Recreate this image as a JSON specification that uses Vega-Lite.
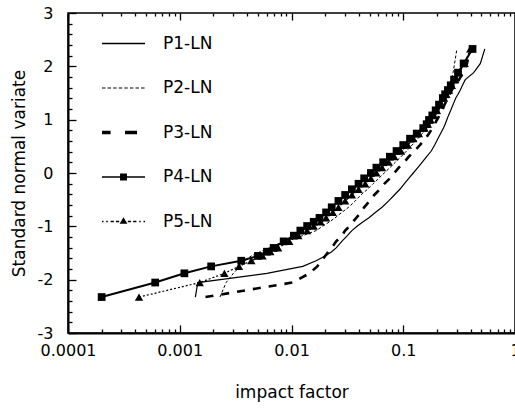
{
  "$schema": "https://vega.github.io/schema/vega-lite/v6.json",
  "width": 447,
  "height": 320,
  "autosize": "none",
  "padding": {"left": 68, "top": 13, "right": 0, "bottom": 76},
  "background": "white",
  "config": {
    "view": {"stroke": "black", "strokeWidth": 1.5},
    "font": "DejaVu Sans",
    "axis": {
      "labelFont": "DejaVu Sans", "titleFont": "DejaVu Sans",
      "labelFontSize": 16, "titleFontSize": 17,
      "labelColor": "black", "titleColor": "black", "titleFontWeight": "normal",
      "domainColor": "black", "domainWidth": 2,
      "tickColor": "black", "tickWidth": 1.3,
      "grid": false, "labelFlush": false, "labelOverlap": false
    }
  },
  "data": {"values": [
    {"s":"P1-LN","x":0.00138,"z":-2.326},{"s":"P1-LN","x":0.00145,"z":-2.054},{"s":"P1-LN","x":0.00603,"z":-1.881},{"s":"P1-LN","x":0.0126,"z":-1.751},{"s":"P1-LN","x":0.0166,"z":-1.645},{"s":"P1-LN","x":0.0200,"z":-1.555},{"s":"P1-LN","x":0.0229,"z":-1.476},{"s":"P1-LN","x":0.0251,"z":-1.405},{"s":"P1-LN","x":0.0282,"z":-1.282},{"s":"P1-LN","x":0.0316,"z":-1.175},{"s":"P1-LN","x":0.0347,"z":-1.08},{"s":"P1-LN","x":0.0389,"z":-0.994},{"s":"P1-LN","x":0.0437,"z":-0.915},{"s":"P1-LN","x":0.0490,"z":-0.842},{"s":"P1-LN","x":0.0562,"z":-0.739},{"s":"P1-LN","x":0.0646,"z":-0.643},{"s":"P1-LN","x":0.0741,"z":-0.524},{"s":"P1-LN","x":0.0832,"z":-0.412},{"s":"P1-LN","x":0.0933,"z":-0.305},{"s":"P1-LN","x":0.102,"z":-0.202},{"s":"P1-LN","x":0.112,"z":-0.1},{"s":"P1-LN","x":0.123,"z":0},{"s":"P1-LN","x":0.135,"z":0.1},{"s":"P1-LN","x":0.148,"z":0.202},{"s":"P1-LN","x":0.162,"z":0.305},{"s":"P1-LN","x":0.178,"z":0.412},{"s":"P1-LN","x":0.191,"z":0.524},{"s":"P1-LN","x":0.204,"z":0.643},{"s":"P1-LN","x":0.216,"z":0.739},{"s":"P1-LN","x":0.229,"z":0.842},{"s":"P1-LN","x":0.237,"z":0.915},{"s":"P1-LN","x":0.245,"z":0.994},{"s":"P1-LN","x":0.254,"z":1.08},{"s":"P1-LN","x":0.266,"z":1.175},{"s":"P1-LN","x":0.279,"z":1.282},{"s":"P1-LN","x":0.295,"z":1.405},{"s":"P1-LN","x":0.309,"z":1.476},{"s":"P1-LN","x":0.324,"z":1.555},{"s":"P1-LN","x":0.339,"z":1.645},{"s":"P1-LN","x":0.359,"z":1.751},{"s":"P1-LN","x":0.427,"z":1.881},{"s":"P1-LN","x":0.490,"z":2.054},{"s":"P1-LN","x":0.537,"z":2.326},
    {"s":"P2-LN","x":0.00229,"z":-2.326},{"s":"P2-LN","x":0.00260,"z":-2.054},{"s":"P2-LN","x":0.00302,"z":-1.881},{"s":"P2-LN","x":0.00347,"z":-1.751},{"s":"P2-LN","x":0.00380,"z":-1.645},{"s":"P2-LN","x":0.00437,"z":-1.555},{"s":"P2-LN","x":0.00525,"z":-1.476},{"s":"P2-LN","x":0.00631,"z":-1.405},{"s":"P2-LN","x":0.00851,"z":-1.282},{"s":"P2-LN","x":0.0126,"z":-1.175},{"s":"P2-LN","x":0.0166,"z":-1.08},{"s":"P2-LN","x":0.0191,"z":-0.994},{"s":"P2-LN","x":0.0219,"z":-0.915},{"s":"P2-LN","x":0.0245,"z":-0.842},{"s":"P2-LN","x":0.0282,"z":-0.739},{"s":"P2-LN","x":0.0324,"z":-0.643},{"s":"P2-LN","x":0.0372,"z":-0.524},{"s":"P2-LN","x":0.0417,"z":-0.412},{"s":"P2-LN","x":0.0479,"z":-0.305},{"s":"P2-LN","x":0.0537,"z":-0.202},{"s":"P2-LN","x":0.0603,"z":-0.1},{"s":"P2-LN","x":0.0676,"z":0},{"s":"P2-LN","x":0.0759,"z":0.1},{"s":"P2-LN","x":0.0851,"z":0.202},{"s":"P2-LN","x":0.0955,"z":0.305},{"s":"P2-LN","x":0.107,"z":0.412},{"s":"P2-LN","x":0.120,"z":0.524},{"s":"P2-LN","x":0.135,"z":0.643},{"s":"P2-LN","x":0.148,"z":0.739},{"s":"P2-LN","x":0.162,"z":0.842},{"s":"P2-LN","x":0.174,"z":0.915},{"s":"P2-LN","x":0.184,"z":0.994},{"s":"P2-LN","x":0.195,"z":1.08},{"s":"P2-LN","x":0.207,"z":1.175},{"s":"P2-LN","x":0.219,"z":1.282},{"s":"P2-LN","x":0.234,"z":1.405},{"s":"P2-LN","x":0.243,"z":1.476},{"s":"P2-LN","x":0.251,"z":1.555},{"s":"P2-LN","x":0.260,"z":1.645},{"s":"P2-LN","x":0.269,"z":1.751},{"s":"P2-LN","x":0.279,"z":1.881},{"s":"P2-LN","x":0.288,"z":2.054},{"s":"P2-LN","x":0.302,"z":2.326},
    {"s":"P3-LN","x":0.00170,"z":-2.326},{"s":"P3-LN","x":0.0102,"z":-2.054},{"s":"P3-LN","x":0.0145,"z":-1.881},{"s":"P3-LN","x":0.0170,"z":-1.751},{"s":"P3-LN","x":0.0186,"z":-1.645},{"s":"P3-LN","x":0.0200,"z":-1.555},{"s":"P3-LN","x":0.0214,"z":-1.476},{"s":"P3-LN","x":0.0229,"z":-1.405},{"s":"P3-LN","x":0.0251,"z":-1.282},{"s":"P3-LN","x":0.0282,"z":-1.175},{"s":"P3-LN","x":0.0302,"z":-1.08},{"s":"P3-LN","x":0.0331,"z":-0.994},{"s":"P3-LN","x":0.0355,"z":-0.915},{"s":"P3-LN","x":0.0380,"z":-0.842},{"s":"P3-LN","x":0.0417,"z":-0.739},{"s":"P3-LN","x":0.0447,"z":-0.643},{"s":"P3-LN","x":0.0501,"z":-0.524},{"s":"P3-LN","x":0.0550,"z":-0.412},{"s":"P3-LN","x":0.0617,"z":-0.305},{"s":"P3-LN","x":0.0676,"z":-0.202},{"s":"P3-LN","x":0.0759,"z":-0.1},{"s":"P3-LN","x":0.0832,"z":0},{"s":"P3-LN","x":0.0912,"z":0.1},{"s":"P3-LN","x":0.102,"z":0.202},{"s":"P3-LN","x":0.112,"z":0.305},{"s":"P3-LN","x":0.126,"z":0.412},{"s":"P3-LN","x":0.141,"z":0.524},{"s":"P3-LN","x":0.158,"z":0.643},{"s":"P3-LN","x":0.170,"z":0.739},{"s":"P3-LN","x":0.182,"z":0.842},{"s":"P3-LN","x":0.191,"z":0.915},{"s":"P3-LN","x":0.200,"z":0.994},{"s":"P3-LN","x":0.211,"z":1.08},{"s":"P3-LN","x":0.224,"z":1.175},{"s":"P3-LN","x":0.234,"z":1.282},{"s":"P3-LN","x":0.251,"z":1.405},{"s":"P3-LN","x":0.260,"z":1.476},{"s":"P3-LN","x":0.272,"z":1.555},{"s":"P3-LN","x":0.288,"z":1.645},{"s":"P3-LN","x":0.316,"z":1.751},{"s":"P3-LN","x":0.343,"z":1.881},{"s":"P3-LN","x":0.372,"z":2.054},{"s":"P3-LN","x":0.398,"z":2.326},
    {"s":"P4-LN","x":0.000200,"z":-2.326},{"s":"P4-LN","x":0.000603,"z":-2.054},{"s":"P4-LN","x":0.00110,"z":-1.881},{"s":"P4-LN","x":0.00191,"z":-1.751},{"s":"P4-LN","x":0.00355,"z":-1.645},{"s":"P4-LN","x":0.00501,"z":-1.555},{"s":"P4-LN","x":0.00603,"z":-1.476},{"s":"P4-LN","x":0.00692,"z":-1.405},{"s":"P4-LN","x":0.00851,"z":-1.282},{"s":"P4-LN","x":0.0105,"z":-1.175},{"s":"P4-LN","x":0.0120,"z":-1.08},{"s":"P4-LN","x":0.0138,"z":-0.994},{"s":"P4-LN","x":0.0158,"z":-0.915},{"s":"P4-LN","x":0.0178,"z":-0.842},{"s":"P4-LN","x":0.0204,"z":-0.739},{"s":"P4-LN","x":0.0229,"z":-0.643},{"s":"P4-LN","x":0.0263,"z":-0.524},{"s":"P4-LN","x":0.0302,"z":-0.412},{"s":"P4-LN","x":0.0347,"z":-0.305},{"s":"P4-LN","x":0.0398,"z":-0.202},{"s":"P4-LN","x":0.0447,"z":-0.1},{"s":"P4-LN","x":0.0513,"z":0},{"s":"P4-LN","x":0.0575,"z":0.1},{"s":"P4-LN","x":0.0661,"z":0.202},{"s":"P4-LN","x":0.0759,"z":0.305},{"s":"P4-LN","x":0.0871,"z":0.412},{"s":"P4-LN","x":0.100,"z":0.524},{"s":"P4-LN","x":0.115,"z":0.643},{"s":"P4-LN","x":0.132,"z":0.739},{"s":"P4-LN","x":0.151,"z":0.842},{"s":"P4-LN","x":0.162,"z":0.915},{"s":"P4-LN","x":0.170,"z":0.994},{"s":"P4-LN","x":0.182,"z":1.08},{"s":"P4-LN","x":0.195,"z":1.175},{"s":"P4-LN","x":0.209,"z":1.282},{"s":"P4-LN","x":0.226,"z":1.405},{"s":"P4-LN","x":0.237,"z":1.476},{"s":"P4-LN","x":0.251,"z":1.555},{"s":"P4-LN","x":0.266,"z":1.645},{"s":"P4-LN","x":0.285,"z":1.751},{"s":"P4-LN","x":0.309,"z":1.881},{"s":"P4-LN","x":0.347,"z":2.054},{"s":"P4-LN","x":0.417,"z":2.326},
    {"s":"P5-LN","x":0.000432,"z":-2.326},{"s":"P5-LN","x":0.00151,"z":-2.054},{"s":"P5-LN","x":0.00251,"z":-1.881},{"s":"P5-LN","x":0.00339,"z":-1.751},{"s":"P5-LN","x":0.00437,"z":-1.645},{"s":"P5-LN","x":0.00550,"z":-1.555},{"s":"P5-LN","x":0.00646,"z":-1.476},{"s":"P5-LN","x":0.00759,"z":-1.405},{"s":"P5-LN","x":0.00955,"z":-1.282},{"s":"P5-LN","x":0.0115,"z":-1.175},{"s":"P5-LN","x":0.0138,"z":-1.08},{"s":"P5-LN","x":0.0158,"z":-0.994},{"s":"P5-LN","x":0.0182,"z":-0.915},{"s":"P5-LN","x":0.0204,"z":-0.842},{"s":"P5-LN","x":0.0234,"z":-0.739},{"s":"P5-LN","x":0.0263,"z":-0.643},{"s":"P5-LN","x":0.0302,"z":-0.524},{"s":"P5-LN","x":0.0347,"z":-0.412},{"s":"P5-LN","x":0.0398,"z":-0.305},{"s":"P5-LN","x":0.0457,"z":-0.202},{"s":"P5-LN","x":0.0513,"z":-0.1},{"s":"P5-LN","x":0.0575,"z":0},{"s":"P5-LN","x":0.0646,"z":0.1},{"s":"P5-LN","x":0.0741,"z":0.202},{"s":"P5-LN","x":0.0832,"z":0.305},{"s":"P5-LN","x":0.0955,"z":0.412},{"s":"P5-LN","x":0.110,"z":0.524},{"s":"P5-LN","x":0.123,"z":0.643},{"s":"P5-LN","x":0.138,"z":0.739},{"s":"P5-LN","x":0.155,"z":0.842},{"s":"P5-LN","x":0.166,"z":0.915},{"s":"P5-LN","x":0.176,"z":0.994},{"s":"P5-LN","x":0.188,"z":1.08},{"s":"P5-LN","x":0.200,"z":1.175},{"s":"P5-LN","x":0.214,"z":1.282},{"s":"P5-LN","x":0.232,"z":1.405},{"s":"P5-LN","x":0.243,"z":1.476},{"s":"P5-LN","x":0.257,"z":1.555},{"s":"P5-LN","x":0.272,"z":1.645},{"s":"P5-LN","x":0.292,"z":1.751},{"s":"P5-LN","x":0.316,"z":1.881},{"s":"P5-LN","x":0.355,"z":2.054},{"s":"P5-LN","x":0.398,"z":2.326}
  ]},
  "layer": [
    {
      "transform": [{"filter": "datum.s == 'P1-LN'"}],
      "mark": {"type": "line", "color": "black", "strokeWidth": 1.2},
      "encoding": {
        "x": {"field": "x", "type": "quantitative", "scale": {"type": "log", "domain": [0.0001, 1]},
          "axis": {
            "orient": "bottom",
            "values": [0.0001, 0.001, 0.01, 0.1, 1],
            "labelExpr": "'' + datum.value",
            "ticks": false,
            "labelPadding": 9,
            "title": "impact factor",
            "titlePadding": 26
          }
        },
        "y": {"field": "z", "type": "quantitative", "scale": {"domain": [-3, 3]},
          "axis": {
            "orient": "left",
            "values": [-3, -2, -1, 0, 1, 2, 3],
            "labelExpr": "'' + datum.value",
            "ticks": false,
            "labelPadding": 15,
            "title": "Standard normal variate",
            "titlePadding": 9
          }
        }
      }
    },
    {
      "transform": [{"filter": "datum.s == 'P2-LN'"}],
      "mark": {"type": "line", "color": "black", "strokeWidth": 1, "strokeDash": [3, 2]},
      "encoding": {
        "x": {"field": "x", "type": "quantitative",
          "axis": {"orient": "bottom", "offset": -8, "values": [0.0001, 0.001, 0.01, 0.1, 1], "tickSize": 8, "labels": false, "domain": false, "title": null}},
        "y": {"field": "z", "type": "quantitative",
          "axis": {"orient": "left", "offset": -8, "values": [-3, -2, -1, 0, 1, 2, 3], "tickSize": 8, "labels": false, "domain": false, "title": null}}
      }
    },
    {
      "transform": [{"filter": "datum.s == 'P3-LN'"}],
      "mark": {"type": "line", "color": "black", "strokeWidth": 2.6, "strokeDash": [8, 8]},
      "encoding": {
        "x": {"field": "x", "type": "quantitative",
          "axis": {"orient": "bottom", "offset": -4, "values": [0.0002,0.0003,0.0004,0.0005,0.0006,0.0007,0.0008,0.0009,0.002,0.003,0.004,0.005,0.006,0.007,0.008,0.009,0.02,0.03,0.04,0.05,0.06,0.07,0.08,0.09,0.2,0.3,0.4,0.5,0.6,0.7,0.8,0.9], "tickSize": 4, "labels": false, "domain": false, "title": null}},
        "y": {"field": "z", "type": "quantitative",
          "axis": {"orient": "left", "offset": -4, "values": [-2.8,-2.6,-2.4,-2.2,-1.8,-1.6,-1.4,-1.2,-0.8,-0.6,-0.4,-0.2,0.2,0.4,0.6,0.8,1.2,1.4,1.6,1.8,2.2,2.4,2.6,2.8], "tickSize": 4, "labels": false, "domain": false, "title": null}}
      }
    },
    {
      "transform": [{"filter": "datum.s == 'P4-LN'"}],
      "mark": {"type": "line", "color": "black", "strokeWidth": 2},
      "encoding": {
        "x": {"field": "x", "type": "quantitative",
          "axis": {"orient": "top", "offset": -7, "values": [0.0001, 0.001, 0.01, 0.1, 1], "tickSize": 7, "labels": false, "domain": false, "title": null}},
        "y": {"field": "z", "type": "quantitative", "axis": null}
      }
    },
    {
      "transform": [{"filter": "datum.s == 'P4-LN'"}],
      "mark": {"type": "point", "shape": "square", "filled": true, "color": "black", "size": 60, "opacity": 1},
      "encoding": {
        "x": {"field": "x", "type": "quantitative",
          "axis": {"orient": "top", "offset": -3, "values": [0.0002,0.0003,0.0004,0.0005,0.0006,0.0007,0.0008,0.0009,0.002,0.003,0.004,0.005,0.006,0.007,0.008,0.009,0.02,0.03,0.04,0.05,0.06,0.07,0.08,0.09,0.2,0.3,0.4,0.5,0.6,0.7,0.8,0.9], "tickSize": 3, "labels": false, "domain": false, "title": null}},
        "y": {"field": "z", "type": "quantitative", "axis": null}
      }
    },
    {
      "transform": [{"filter": "datum.s == 'P5-LN'"}],
      "mark": {"type": "line", "color": "black", "strokeWidth": 1.2, "strokeDash": [2, 2]},
      "encoding": {
        "x": {"field": "x", "type": "quantitative", "axis": null},
        "y": {"field": "z", "type": "quantitative", "axis": null}
      }
    },
    {
      "transform": [{"filter": "datum.s == 'P5-LN'"}],
      "mark": {"type": "point", "shape": "triangle-up", "filled": true, "color": "black", "size": 70, "opacity": 1},
      "encoding": {
        "x": {"field": "x", "type": "quantitative", "axis": null},
        "y": {"field": "z", "type": "quantitative", "axis": null}
      }
    },
    {
      "transform": [{"filter": "false"}],
      "mark": {"type": "point", "filled": true, "color": "black", "size": 1849, "opacity": 1},
      "encoding": {
        "x": {"field": "x", "type": "quantitative", "axis": null},
        "y": {"field": "z", "type": "quantitative", "axis": null},
        "shape": {"field": "s", "type": "nominal",
          "scale": {
            "domain": ["P1-LN", "P2-LN", "P3-LN", "P4-LN", "P5-LN"],
            "range": [
              "M-1,-0.03H1V0.03H-1Z",
              "M-1,-0.025H-0.84V0.025H-1ZM-0.74,-0.025H-0.58V0.025H-0.74ZM-0.48,-0.025H-0.32V0.025H-0.48ZM-0.22,-0.025H-0.06V0.025H-0.22ZM0.04,-0.025H0.2V0.025H0.04ZM0.3,-0.025H0.46V0.025H0.3ZM0.56,-0.025H0.72V0.025H0.56ZM0.82,-0.025H0.98V0.025H0.82Z",
              "M-1,-0.08H-0.6V0.08H-1ZM0.07,-0.08H0.63V0.08H0.07Z",
              "M-1,-0.035H1V0.035H-1ZM-0.16,-0.16H0.16V0.16H-0.16Z",
              "M-1,-0.03H-0.93V0.03H-1ZM-0.8,-0.03H-0.73V0.03H-0.8ZM-0.6,-0.03H-0.45V0.03H-0.6ZM-0.35,-0.03H-0.2V0.03H-0.35ZM0.2,-0.03H0.35V0.03H0.2ZM0.45,-0.03H0.6V0.03H0.45ZM0.73,-0.03H0.8V0.03H0.73ZM0.93,-0.03H1V0.03H0.93ZM0,-0.2L0.18,0.11L-0.18,0.11Z"
            ]
          },
          "legend": {
            "orient": "none", "legendX": 34, "legendY": 9, "title": null, "padding": 0,
            "labelFont": "DejaVu Sans", "labelFontSize": 17, "labelColor": "black", "labelOffset": 18,
            "symbolSize": 1849, "symbolStrokeWidth": 0, "symbolFillColor": "black",
            "rowPadding": 14.5
          }
        }
      }
    }
  ],
  "resolve": {"axis": {"x": "independent", "y": "independent"}}
}
